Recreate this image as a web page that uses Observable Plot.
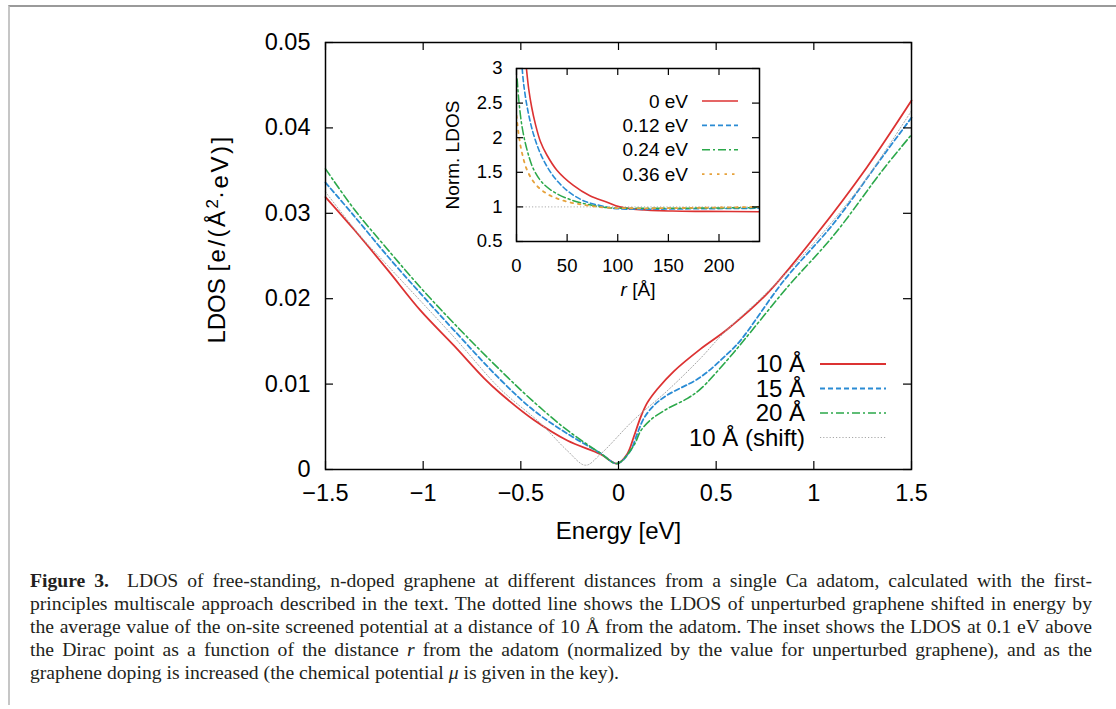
<!DOCTYPE html>
<html><head><meta charset="utf-8">
<script src="https://cdn.jsdelivr.net/npm/d3@7"></script>
<script src="https://cdn.jsdelivr.net/npm/@observablehq/plot@0.6"></script>
<style>
body{margin:0;background:#fff;width:1116px;height:709px;overflow:hidden;position:relative;font-family:"Liberation Sans",Arial,sans-serif;}
#frame{position:absolute;left:8px;top:5px;right:-4px;bottom:4px;border-top:2px solid #9a9a9a;border-left:2px solid #c6c6c6;}
#main{position:absolute;left:0;top:0;}
#inset{position:absolute;left:430px;top:55px;}
#caption{position:absolute;left:30px;top:569px;width:1062px;font-family:"Liberation Serif",serif;font-size:18px;line-height:23px;color:#231f20;}
#caption div{text-align:justify;text-align-last:justify;white-space:nowrap;}
#caption div.last{text-align-last:left;}
</style></head>
<body>
<div id="frame"></div>
<div id="main"></div>
<div id="inset"></div>
<div id="caption">
<div><b>Figure 3.</b>&nbsp; LDOS of free-standing, n-doped graphene at different distances from a single Ca adatom, calculated with the first-</div>
<div>principles multiscale approach described in the text. The dotted line shows the LDOS of unperturbed graphene shifted in energy by</div>
<div>the average value of the on-site screened potential at a distance of 10 Å from the adatom. The inset shows the LDOS at 0.1 eV above</div>
<div>the Dirac point as a function of the distance <i>r</i> from the adatom (normalized by the value for unperturbed graphene), and as the</div>
<div class="last">graphene doping is increased (the chemical potential <i>μ</i> is given in the key).</div>
</div>
<script>
// ---- main panel data: LDOS [e/(Å²·eV)] vs energy [eV]
const E10 = [-1.5,-1.354,-1.183,-1.013,-0.842,-0.689,-0.604,-0.433,-0.262,-0.092,-0.007,0.044,0.078,0.113,0.147,0.198,0.283,0.419,0.556,0.761,1.016,1.272,1.5];
const L10 = [0.0319,0.0281,0.0234,0.0186,0.0145,0.0107,0.0089,0.0058,0.0034,0.0018,0.0007,0.0018,0.0038,0.0061,0.0078,0.0094,0.0115,0.0141,0.0164,0.0206,0.0276,0.0354,0.0432];
const E15 = [-1.5,-1.354,-1.183,-1.013,-0.842,-0.604,-0.433,-0.262,-0.092,-0.007,0.061,0.096,0.13,0.181,0.249,0.419,0.556,0.624,0.846,1.101,1.357,1.5];
const L15 = [0.0336,0.0297,0.0250,0.0206,0.0163,0.0105,0.0069,0.0042,0.0019,0.0007,0.0022,0.0042,0.0060,0.0075,0.0087,0.0108,0.0135,0.0151,0.0221,0.0288,0.0368,0.0412];
const E20 = [-1.5,-1.354,-1.183,-1.013,-0.842,-0.604,-0.433,-0.262,-0.092,-0.007,0.078,0.113,0.164,0.249,0.351,0.419,0.556,0.641,0.863,1.101,1.357,1.5];
const L20 = [0.0352,0.0305,0.0258,0.0213,0.0171,0.0116,0.0079,0.0046,0.0019,0.0007,0.0028,0.0045,0.0058,0.0071,0.0083,0.0094,0.0128,0.0151,0.0213,0.0274,0.0352,0.0392];
const Eshift = [-1.5,-1.32,-1.183,-0.842,-0.604,-0.399,-0.262,-0.169,-0.092,0.078,0.249,0.419,0.539,0.75,1.0,1.25,1.5];
const Lshift = [0.0325,0.0273,0.0239,0.0155,0.0094,0.0054,0.0022,0.0005,0.0018,0.0058,0.0092,0.0130,0.0160,0.0205,0.0265,0.0335,0.0420];
const mainLabels = ["10 Å","15 Å","20 Å","10 Å (shift)"];
const mainXTicks = [-1.5,-1,-0.5,0,0.5,1,1.5];
const mainYTicks = [0,0.01,0.02,0.03,0.04,0.05];

// ---- inset data: normalized LDOS vs r [Å]
const r0 = [9.8,12.1,15,18.6,23.5,30,39.9,56.2,72.5,88.9,102,121.6,154,187,240];
const n0 = [3.0,2.70,2.44,2.20,1.95,1.75,1.53,1.31,1.16,1.07,1.00,0.96,0.94,0.935,0.93];
const r12 = [5.6,7.2,11.1,17,25.2,36.6,49.7,66,82.4,95.4,121.6,154,240];
const n12 = [3.0,2.76,2.40,2.04,1.72,1.44,1.24,1.09,1.02,0.98,0.965,0.97,0.98];
const r24 = [0.65,2.3,5.6,10.5,17,26.8,39.9,56.2,72.5,88.9,121.6,240];
const n24 = [2.85,2.54,2.15,1.82,1.54,1.33,1.19,1.09,1.03,0.99,0.98,0.99];
const r36 = [0,2.3,5.6,10.5,18.6,30,46.4,66,88.9,121.6,240];
const n36 = [2.32,2.03,1.77,1.53,1.33,1.19,1.09,1.03,0.99,0.98,1.0];
const insetLabels = ["0 eV","0.12 eV","0.24 eV","0.36 eV"];
const insetXTicks = [0,50,100,150,200];
const insetYTicks = [0.5,1,1.5,2,2.5,3];
const refLevel = [1];

const styles = [
  {color:"#dc3232", dash:null, w:1.8},
  {color:"#2a8bd4", dash:"5,3", w:1.8},
  {color:"#2ba84a", dash:"8,3,2,3", w:1.6},
  {color:"#a8a8a8", dash:"1.2,2", w:1}
];
const insetStyles = [
  {color:"#dc3232", dash:null, w:1.6},
  {color:"#2a8bd4", dash:"5,3", w:1.6},
  {color:"#2ba84a", dash:"8,3,2,3", w:1.5},
  {color:"#e6a23c", dash:"2.5,5", w:1.8}
];

const toRows = (xs, ys) => xs.map((x,i)=>({x, y: ys[i]}));
const mainSeries = [toRows(E10,L10), toRows(E15,L15), toRows(E20,L20), toRows(Eshift,Lshift)];
const insetSeries = [toRows(r0,n0), toRows(r12,n12), toRows(r24,n24), toRows(r36,n36)];
const minus = s => String(s).replace("-","\u2212");

// ---------- main plot
const W = 1116, H = 550, mL = 325, mR = W-911, mT = 42, mB = H-469;
const pW = W-mL-mR, pH = H-mT-mB, tk = 8;
const main = Plot.plot({
  width: W, height: H, marginLeft: mL, marginRight: mR, marginTop: mT, marginBottom: mB,
  x: {domain:[-1.5,1.5]}, y: {domain:[0,0.05]},
  style: {fontFamily:"Liberation Sans, Arial, sans-serif", fontSize:"23.5px", color:"black", background:"transparent", overflow:"visible"},
  marks: [
    ...mainSeries.map((d,i)=>Plot.line(d,{x:"x", y:"y", stroke:styles[i].color, strokeWidth:styles[i].w, strokeDasharray:styles[i].dash, curve:"catmull-rom"})),
    Plot.frame({stroke:"black", strokeWidth:1.5}),
    Plot.tickX(mainXTicks,{x:d=>d, insetTop:pH-tk, stroke:"black", strokeWidth:1.2}),
    Plot.tickX(mainXTicks,{x:d=>d, insetBottom:pH-tk, stroke:"black", strokeWidth:1.2}),
    Plot.tickY(mainYTicks,{y:d=>d, insetRight:pW-tk, stroke:"black", strokeWidth:1.2}),
    Plot.tickY(mainYTicks,{y:d=>d, insetLeft:pW-tk, stroke:"black", strokeWidth:1.2}),
    Plot.axisX(mainXTicks,{tickSize:0, tickPadding:15, label:null, tickFormat:d=>d===0?"0":minus(d), fontSize:23.5}),
    Plot.axisY(mainYTicks,{tickSize:0, tickPadding:15, label:null, tickFormat:d=>d===0?"0":d.toFixed(2), fontSize:23.5}),
    Plot.text(["Energy [eV]"],{frameAnchor:"bottom", dy:62, lineAnchor:"middle", fontSize:24}),
    Plot.text(["LDOS [e/(Å2·eV)]"],{frameAnchor:"left", dx:-108, dy:-17, rotate:-90, lineAnchor:"middle", textAnchor:"middle", fontSize:24})
  ]
});
document.getElementById("main").appendChild(main);
// superscript in y title
d3.select(main).selectAll("text").each(function(){
  if (this.textContent === "LDOS [e/(Å2·eV)]") {
    const t = d3.select(this);
    t.text(null);
    t.append("tspan").text("LDOS ");
    t.append("tspan").attr("letter-spacing","2.5px").text("[e/(Å");
    t.append("tspan").attr("dy","-0.45em").attr("font-size","17px").text("2");
    t.append("tspan").attr("dy","0.45em").attr("letter-spacing","2.5px").text("·eV)]");
  }
});

// main legend
{
  const g = d3.select(main).append("g").attr("font-family","Liberation Sans, Arial, sans-serif").attr("font-size",24);
  mainLabels.forEach((lab,i)=>{
    const y = 364 + i*24.5;
    g.append("text").attr("x",805).attr("y",y).attr("dy","0.35em").attr("text-anchor","end").attr("fill","black").text(lab);
    g.append("line").attr("x1",820).attr("x2",886).attr("y1",y).attr("y2",y)
      .attr("stroke",styles[i].color).attr("stroke-width",styles[i].w).attr("stroke-dasharray",styles[i].dash);
  });
}

// ---------- inset plot
const iW = 340, iH = 245, iL = 86, iR = 11, iT = 13, iB = 59;
const ipW = iW-iL-iR, ipH = iH-iT-iB, itk = 7;
const inset = Plot.plot({
  width: iW, height: iH, marginLeft: iL, marginRight: iR, marginTop: iT, marginBottom: iB,
  x: {domain:[0,240]}, y: {domain:[0.5,3]},
  style: {fontFamily:"Liberation Sans, Arial, sans-serif", fontSize:"18px", color:"black", background:"transparent", overflow:"visible"},
  marks: [
    Plot.ruleY(refLevel,{stroke:"#aaaaaa", strokeWidth:1, strokeDasharray:"1.2,2"}),
    ...insetSeries.map((d,i)=>Plot.line(d,{x:"x", y:"y", stroke:insetStyles[i].color, strokeWidth:insetStyles[i].w, strokeDasharray:insetStyles[i].dash, curve:"catmull-rom", clip:true})),
    Plot.frame({stroke:"black", strokeWidth:1.5}),
    Plot.tickX(insetXTicks,{x:d=>d, insetTop:ipH-itk, stroke:"black", strokeWidth:1.2}),
    Plot.tickX(insetXTicks,{x:d=>d, insetBottom:ipH-itk, stroke:"black", strokeWidth:1.2}),
    Plot.tickY(insetYTicks,{y:d=>d, insetRight:ipW-itk, stroke:"black", strokeWidth:1.2}),
    Plot.tickY(insetYTicks,{y:d=>d, insetLeft:ipW-itk, stroke:"black", strokeWidth:1.2}),
    Plot.axisX(insetXTicks,{tickSize:0, tickPadding:17, label:null, tickFormat:d=>String(d), fontSize:18.5}),
    Plot.axisY(insetYTicks,{tickSize:0, tickPadding:14, label:null, tickFormat:d=>String(d), fontSize:18.5}),
    Plot.text(["r [Å]"],{frameAnchor:"bottom", dy:48, lineAnchor:"middle", fontSize:19}),
    Plot.text(["Norm. LDOS"],{frameAnchor:"left", dx:-64, rotate:-90, lineAnchor:"middle", textAnchor:"middle", fontSize:19})
  ]
});
document.getElementById("inset").appendChild(inset);
d3.select(inset).selectAll("text").each(function(){
  if (this.textContent === "r [Å]") {
    const t = d3.select(this);
    t.text(null);
    t.append("tspan").attr("font-style","italic").text("r");
    t.append("tspan").text(" [Å]");
  }
});
{
  const g = d3.select(inset).append("g").attr("font-family","Liberation Sans, Arial, sans-serif").attr("font-size",19);
  insetLabels.forEach((lab,i)=>{
    const y = 46 + i*24.4;
    g.append("text").attr("x",258).attr("y",y).attr("dy","0.35em").attr("text-anchor","end").attr("fill","black").text(lab);
    g.append("line").attr("x1",272).attr("x2",308).attr("y1",y).attr("y2",y)
      .attr("stroke",insetStyles[i].color).attr("stroke-width",insetStyles[i].w).attr("stroke-dasharray",insetStyles[i].dash);
  });
}

// caption: pick a font size so that the widest full line nearly fills the column
{
  const cap = document.getElementById("caption");
  const divs = Array.from(cap.querySelectorAll("div"));
  const measure = div => {
    const span = document.createElement("span");
    span.innerHTML = div.innerHTML;
    span.style.whiteSpace = "nowrap";
    span.style.position = "absolute"; span.style.visibility = "hidden";
    cap.appendChild(span);
    const w = span.getBoundingClientRect().width;
    span.remove();
    return w;
  };
  const maxW = Math.max(...divs.slice(0,4).map(measure));
  const fs = 18 * 1045 / maxW;
  cap.style.fontSize = fs.toFixed(2) + "px";
}
</script>
</body></html>
